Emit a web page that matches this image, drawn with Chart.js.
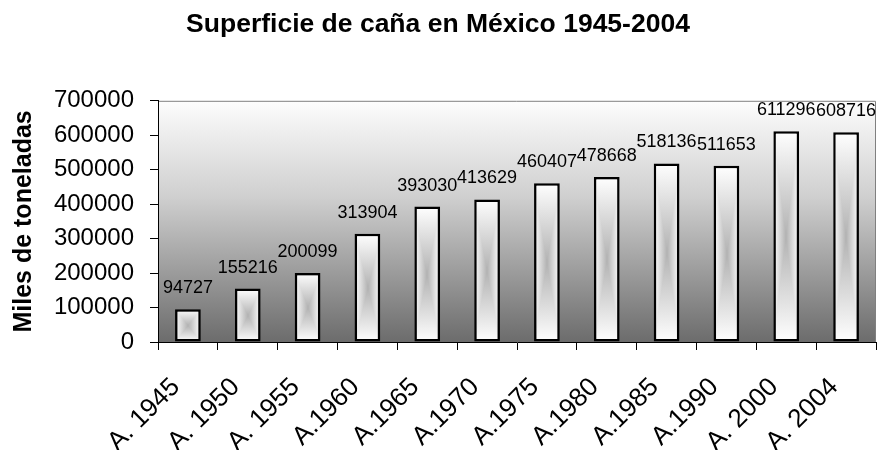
<!DOCTYPE html>
<html>
<head>
<meta charset="utf-8">
<script src="https://cdn.jsdelivr.net/npm/chart.js@4.4.1/dist/chart.umd.min.js"></script>
<style>
  html, body { margin: 0; padding: 0; background: #ffffff; }
  #wrap { width: 878px; height: 450px; position: relative; }
</style>
</head>
<body>
<div id="wrap"><canvas id="c"></canvas></div>
<script>
const categories = ["A. 1945", "A. 1950", "A. 1955", "A.1960", "A.1965", "A.1970", "A.1975", "A.1980", "A.1985", "A.1990", "A. 2000", "A. 2004"];
const superficie = [94727, 155216, 200099, 313904, 393030, 413629, 460407, 478668, 518136, 511653, 611296, 608716];
const yTicks = [0, 100000, 200000, 300000, 400000, 500000, 600000, 700000];
const chartTitle = "Superficie de caña en México 1945-2004";
const yTitle = "Miles de toneladas";

const FONT = "'Liberation Sans', Arial, sans-serif";
const BAR_PCT = 0.43;

function barPattern(c, x, y, w, h) {
  const W = Math.max(2, Math.round(w)), H = Math.max(2, Math.round(h));
  const off = document.createElement('canvas');
  off.width = W; off.height = H;
  const o = off.getContext('2d');
  const cx = W / 2, cy = H / 2;
  const edge = '#ffffff', mid = '#b2b2b2';
  let g = o.createLinearGradient(0, 0, W, 0);
  g.addColorStop(0, edge); g.addColorStop(0.5, mid); g.addColorStop(1, edge);
  o.fillStyle = g; o.fillRect(0, 0, W, H);
  g = o.createLinearGradient(0, 0, 0, cy);
  g.addColorStop(0, edge); g.addColorStop(1, mid);
  o.beginPath(); o.moveTo(0, 0); o.lineTo(W, 0); o.lineTo(cx, cy); o.closePath();
  o.fillStyle = g; o.fill();
  g = o.createLinearGradient(0, H, 0, cy);
  g.addColorStop(0, edge); g.addColorStop(1, mid);
  o.beginPath(); o.moveTo(0, H); o.lineTo(W, H); o.lineTo(cx, cy); o.closePath();
  o.fillStyle = g; o.fill();
  const p = c.createPattern(off, 'no-repeat');
  p.setTransform(new DOMMatrix([1, 0, 0, 1, Math.round(x), Math.round(y)]));
  return p;
}

const bgPlugin = {
  id: 'plotBg',
  beforeDraw(chart) {
    const a = chart.chartArea, c = chart.ctx;
    c.save();
    const g = c.createLinearGradient(0, a.top, 0, a.bottom);
    g.addColorStop(0, '#fdfdfd');
    g.addColorStop(0.4, '#cfcfcf');
    g.addColorStop(1, '#6c6c6c');
    c.fillStyle = g;
    c.fillRect(a.left, a.top, a.right - a.left, a.bottom - a.top);
    c.strokeStyle = '#808080';
    c.lineWidth = 1;
    c.beginPath();
    c.moveTo(a.left, a.top + 0.5);
    c.lineTo(a.right - 0.5, a.top + 0.5);
    c.lineTo(a.right - 0.5, a.bottom);
    c.stroke();
    c.restore();
  }
};

const labelPlugin = {
  id: 'valueLabels',
  afterDatasetsDraw(chart) {
    const c = chart.ctx;
    const meta = chart.getDatasetMeta(0);
    c.save();
    c.font = '18px ' + FONT;
    c.fillStyle = '#000';
    c.textAlign = 'center';
    c.textBaseline = 'alphabetic';
    meta.data.forEach((el, i) => {
      c.fillText(String(superficie[i]), el.x, el.y - 16);
    });
    c.restore();
  }
};

new Chart(document.getElementById('c'), {
  type: 'bar',
  data: {
    labels: categories,
    datasets: [{
      data: superficie,
      borderColor: '#000000',
      borderWidth: 2.5,
      borderSkipped: false,
      categoryPercentage: 1,
      barPercentage: BAR_PCT,
      backgroundColor: (ctx) => {
        const chart = ctx.chart;
        if (ctx.type !== 'data' || !chart.chartArea || !chart.scales.x) return '#dddddd';
        const xs = chart.scales.x, ys = chart.scales.y;
        const cx = xs.getPixelForValue(ctx.dataIndex);
        const w = (xs.width / categories.length) * BAR_PCT;
        const top = ys.getPixelForValue(ctx.raw);
        const base = ys.getPixelForValue(0);
        return barPattern(chart.ctx, cx - w / 2, top, w, base - top);
      }
    }]
  },
  options: {
    responsive: true,
    maintainAspectRatio: false,
    animation: false,
    layout: { padding: { left: 0, right: 2, top: 0, bottom: 0 } },
    plugins: {
      legend: { display: false },
      tooltip: { enabled: false },
      title: {
        display: true,
        text: chartTitle,
        color: '#000',
        font: { family: FONT, size: 26.5, weight: 'bold' },
        padding: { top: 9, bottom: 60 }
      }
    },
    scales: {
      x: {
        afterFit: (s) => { s.height = 108; s.paddingLeft = 0; s.paddingRight = 0; },
        grid: { drawOnChartArea: false, drawTicks: true, tickLength: 8, color: '#000', offset: true },
        border: { display: true, color: '#000', width: 1 },
        ticks: {
          color: '#000',
          font: { family: FONT, size: 26 },
          minRotation: 45,
          maxRotation: 45,
          autoSkip: false,
          padding: 22,
          labelOffset: -12
        }
      },
      y: {
        min: 0,
        max: 700000,
        afterFit: (s) => { s.width = 158; s.paddingTop = 0; s.paddingBottom = 0; },
        afterBuildTicks: (s) => { s.ticks = yTicks.map(v => ({ value: v })); },
        grid: { drawOnChartArea: false, drawTicks: true, tickLength: 8, color: '#000' },
        border: { display: true, color: '#000', width: 1 },
        ticks: {
          color: '#000',
          font: { family: FONT, size: 24 },
          padding: 16,
          callback: (v) => String(v)
        },
        title: {
          display: true,
          text: yTitle,
          color: '#000',
          font: { family: FONT, size: 25, weight: 'bold' },
          padding: { top: 9, bottom: 0 }
        }
      }
    }
  },
  plugins: [bgPlugin, labelPlugin]
});
</script>
</body>
</html>
